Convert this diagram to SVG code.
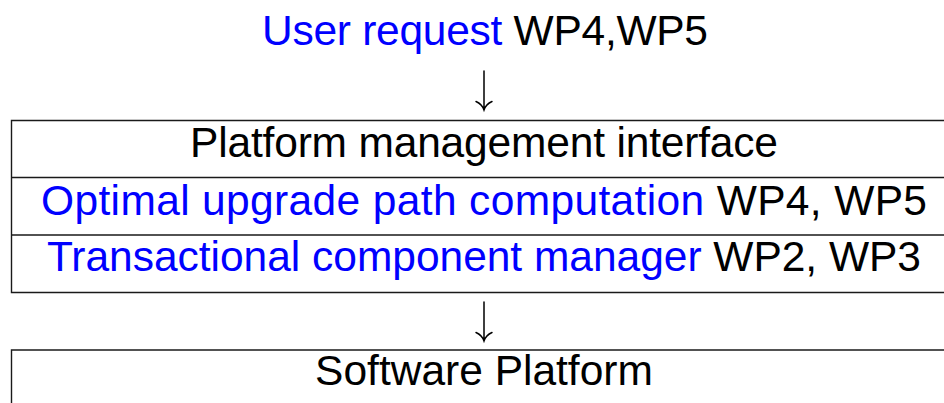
<svg xmlns="http://www.w3.org/2000/svg" width="944" height="403" viewBox="0 0 944 403">
  <style>
    .t { font-family: "Liberation Sans", Arial, sans-serif; font-size: 42.5px; fill: #000; text-anchor: middle; }
    .b { fill: #0000ff; }
    .rule { stroke: #1a1a1a; stroke-width: 1.4; fill: none; }
    .arr { stroke: #000; stroke-width: 1.5; fill: none; stroke-linecap: round; }
  </style>

  <!-- request line -->
  <g id="request">
    <text class="t" x="485" y="45" textLength="446" lengthAdjust="spacing"><tspan class="b">User request</tspan> WP4,WP5</text>
  </g>

  <!-- stacked middleware layers -->
  <g id="layers">
    <path class="rule" d="M944 120.5 H11.5 V292.5 H944 M11.5 177.5 H944 M11.5 235 H944"/>
    <g id="pmi">
      <text class="t" x="484" y="157" textLength="588" lengthAdjust="spacing">Platform management interface</text>
    </g>
    <g id="upgrade">
      <text class="t" x="484" y="215" textLength="886" lengthAdjust="spacing"><tspan class="b">Optimal upgrade path computation</tspan> WP4, WP5</text>
    </g>
    <g id="tcm">
      <text class="t" x="484" y="271" textLength="874" lengthAdjust="spacing"><tspan class="b">Transactional component manager</tspan> WP2, WP3</text>
    </g>
  </g>

  <!-- underlying platform -->
  <g id="platform">
    <path class="rule" d="M944 350 H11.5 V403"/>
    <text class="t" x="484" y="385">Software Platform</text>
  </g>

  <!-- connectors -->
  <g id="connectors">
    <path class="arr" d="M484 71 V110 M476 101.5 Q482 104 484 110 Q486 104 492 101.5"/>
    <path class="arr" d="M484 302 V341 M476 332.5 Q482 335 484 341 Q486 335 492 332.5"/>
  </g>
</svg>
